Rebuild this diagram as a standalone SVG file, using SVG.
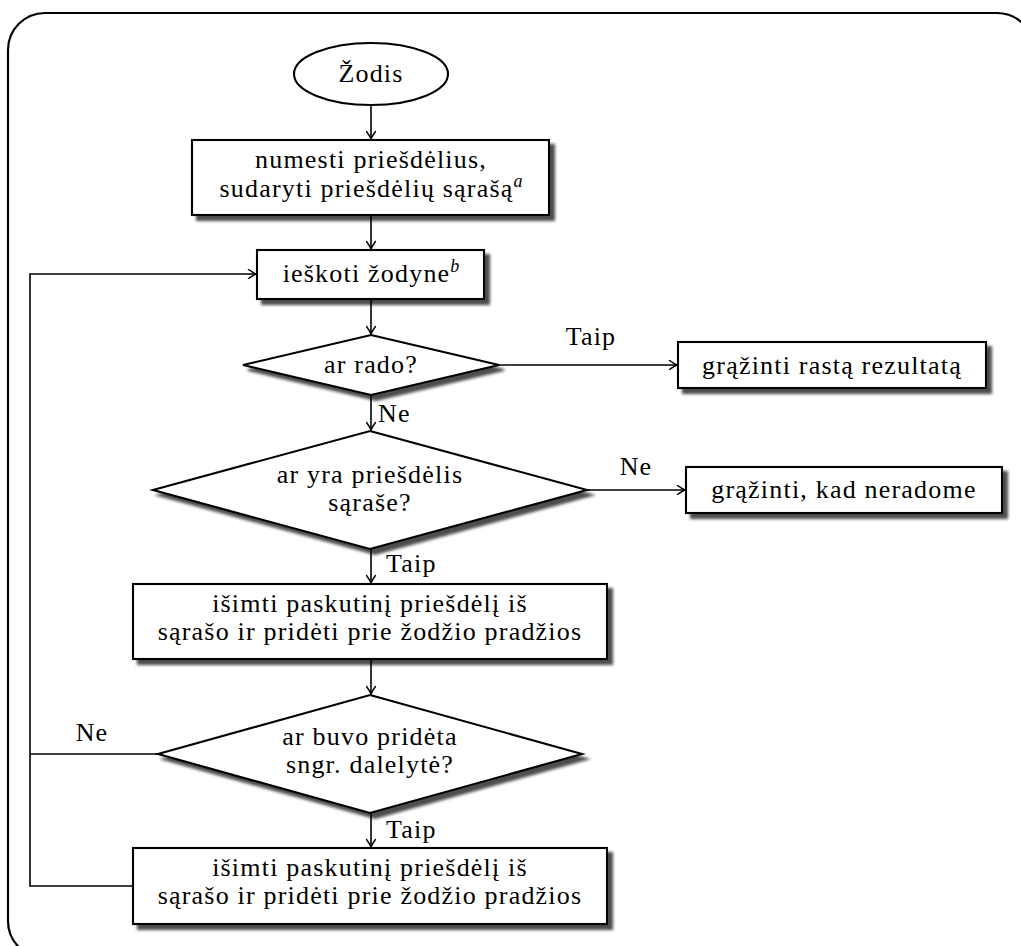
<svg xmlns="http://www.w3.org/2000/svg" width="1021" height="946" viewBox="0 0 1021 946">
  <style>
    .frame { fill: none; stroke: #000; stroke-width: 2.2; }
    .shape { fill: #fff; stroke: #000; stroke-width: 2.1; }
    .shadowed { filter: url(#drop); }
    .wire { fill: none; stroke: #000; stroke-width: 1.6; }
    .arrow { marker-end: url(#tip); }
    text { font-family: 'Liberation Serif', serif; font-size: 26px; letter-spacing: 1.2px; fill: #000; }
    .mid { text-anchor: middle; }
    .sup { font-size: 18px; font-style: italic; letter-spacing: 0; }
  </style>
  <defs>
    <filter id="drop" x="-10%" y="-20%" width="125%" height="150%">
      <feGaussianBlur in="SourceAlpha" stdDeviation="1.7" result="b"/>
      <feOffset in="b" dx="4.5" dy="4.5" result="o"/>
      <feComponentTransfer in="o" result="s">
        <feFuncA type="linear" slope="0.7"/>
      </feComponentTransfer>
      <feMerge>
        <feMergeNode in="s"/>
        <feMergeNode in="SourceGraphic"/>
      </feMerge>
    </filter>
    <marker id="tip" viewBox="-9 -5 10 10" refX="0" refY="0" markerWidth="10" markerHeight="10" markerUnits="userSpaceOnUse" orient="auto">
      <path d="M -7.5 -4.5 Q -2.5 -1 0 0 Q -2.5 1 -7.5 4.5" fill="none" stroke="#000" stroke-width="1.5" stroke-linecap="round"/>
    </marker>
  </defs>

  <!-- outer rounded frame -->
  <rect class="frame" x="8" y="13" width="1026" height="945" rx="37" ry="37"/>

  <!-- connectors -->
  <g id="connectors">
    <line class="wire arrow" x1="371" y1="106" x2="371" y2="139"/>
    <line class="wire arrow" x1="371" y1="215" x2="371" y2="249"/>
    <line class="wire arrow" x1="371" y1="299" x2="371" y2="334"/>
    <line class="wire arrow" x1="371" y1="395" x2="371" y2="430"/>
    <line class="wire arrow" x1="371" y1="549" x2="371" y2="583"/>
    <line class="wire arrow" x1="371" y1="659" x2="371" y2="694"/>
    <line class="wire arrow" x1="371" y1="813" x2="371" y2="847"/>
    <line class="wire arrow" x1="499" y1="365" x2="677" y2="365"/>
    <line class="wire arrow" x1="587" y1="490" x2="685" y2="490"/>
    <polyline class="wire arrow" points="133,886 30,886 30,274 256,274"/>
    <line class="wire" x1="158" y1="754" x2="30" y2="754"/>
    <text class="mid" x="591" y="345">Taip</text>
    <text x="378" y="422">Ne</text>
    <text class="mid" x="636" y="475">Ne</text>
    <text x="386" y="572">Taip</text>
    <text class="mid" x="92" y="741">Ne</text>
    <text x="386" y="838">Taip</text>
  </g>

  <g id="start">
    <ellipse class="shape" cx="371" cy="74" rx="77" ry="31"/>
    <text class="mid" x="371" y="82">Žodis</text>
  </g>

  <g id="drop-prefixes">
    <rect class="shape shadowed" x="192" y="140" width="357" height="75"/>
    <text class="mid" x="371" y="168">numesti priešdėlius,</text>
    <text class="mid" x="371" y="197">sudaryti priešdėlių sąrašą<tspan class="sup" dy="-10">a</tspan></text>
  </g>

  <g id="lookup">
    <rect class="shape shadowed" x="257" y="250" width="227" height="49"/>
    <text class="mid" x="371" y="282">ieškoti žodyne<tspan class="sup" dy="-10">b</tspan></text>
  </g>

  <g id="found">
    <polygon class="shape shadowed" points="371,335 499,365 371,395 243,365"/>
    <text class="mid" x="371" y="373">ar rado?</text>
  </g>

  <g id="return-found">
    <rect class="shape shadowed" x="678" y="342" width="308" height="46"/>
    <text class="mid" x="832" y="374">grąžinti rastą rezultatą</text>
  </g>

  <g id="prefix-left">
    <polygon class="shape shadowed" points="370,431 587,490 370,549 153,490"/>
    <text class="mid" x="370" y="483">ar yra priešdėlis</text>
    <text class="mid" x="370" y="511">sąraše?</text>
  </g>

  <g id="return-missing">
    <rect class="shape shadowed" x="686" y="467" width="316" height="46"/>
    <text class="mid" x="844" y="498">grąžinti, kad neradome</text>
  </g>

  <g id="restore-prefix">
    <rect class="shape shadowed" x="133" y="584" width="474" height="75"/>
    <text class="mid" x="370" y="612">išimti paskutinį priešdėlį iš</text>
    <text class="mid" x="370" y="640">sąrašo ir pridėti prie žodžio pradžios</text>
  </g>

  <g id="particle-added">
    <polygon class="shape shadowed" points="370,695 582,754 370,813 158,754"/>
    <text class="mid" x="370" y="745">ar buvo pridėta</text>
    <text class="mid" x="370" y="773">sngr. dalelytė?</text>
  </g>

  <g id="restore-prefix-again">
    <rect class="shape shadowed" x="133" y="848" width="474" height="76"/>
    <text class="mid" x="370" y="876">išimti paskutinį priešdėlį iš</text>
    <text class="mid" x="370" y="904">sąrašo ir pridėti prie žodžio pradžios</text>
  </g>
</svg>
